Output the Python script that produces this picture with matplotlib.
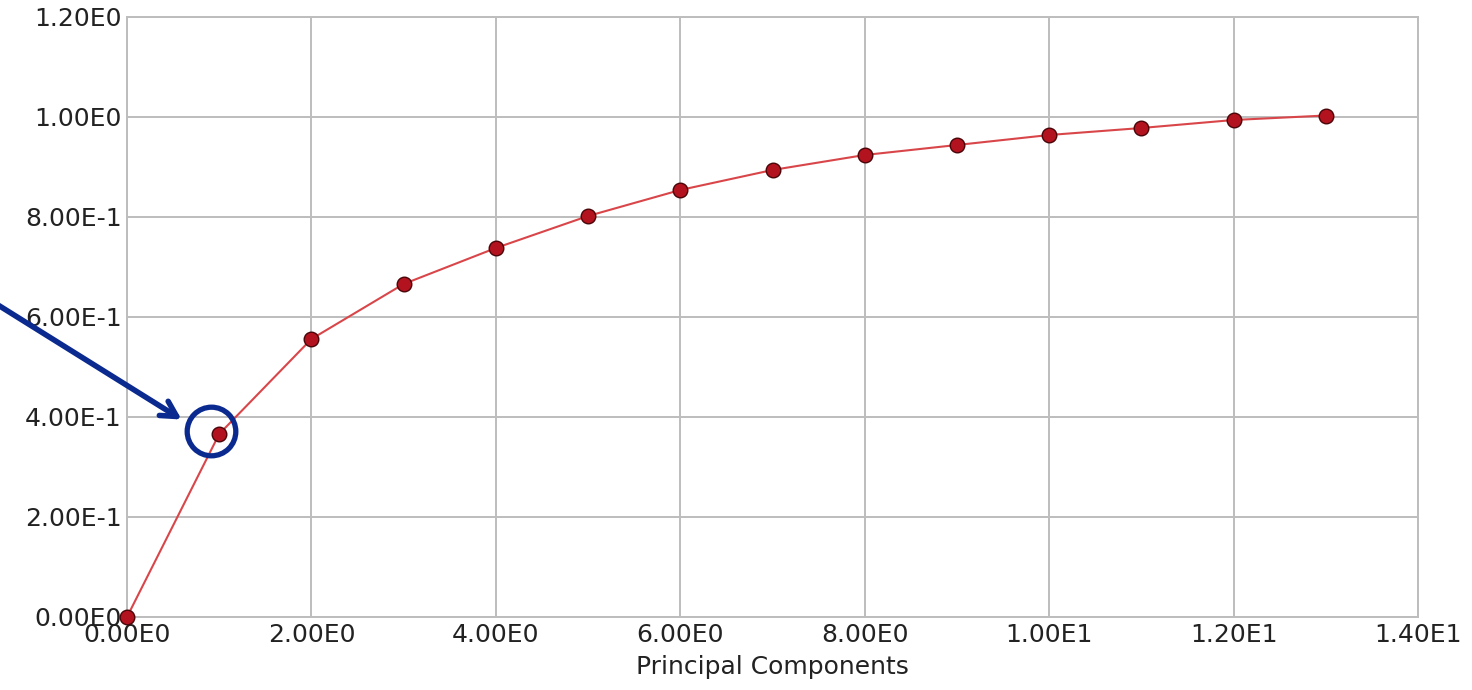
import math

import matplotlib

matplotlib.use("Agg")
import matplotlib.pyplot as plt
from matplotlib.ticker import FuncFormatter, MultipleLocator
from matplotlib.transforms import offset_copy

# cumulative explained variance per number of principal components
components = [0, 1, 2, 3, 4, 5, 6, 7, 8, 9, 10, 11, 12, 13]
cum_variance = [0.0, 0.366, 0.556, 0.666, 0.738, 0.802, 0.854, 0.894,
                0.924, 0.944, 0.964, 0.978, 0.994, 1.003]

highlight_idx = 1


def sci_label(v, _pos=None):
    if abs(v) < 1e-12:
        return "0.00E0"
    exp = int(math.floor(math.log10(abs(v)) + 1e-9))
    return f"{v / 10 ** exp:.2f}E{exp}"


fig = plt.figure(figsize=(14.72, 6.9), dpi=100)
ax = fig.add_axes([127 / 1472, 73 / 690, (1418 - 127) / 1472, 600 / 690])

ax.plot(components, cum_variance, color="#d9464a", lw=1.5, zorder=3,
        marker="o", markersize=10.5, markerfacecolor="#b3121f",
        markeredgecolor="#4a0508", markeredgewidth=1.0, clip_on=False)

ax.set_xlim(0, 14)
ax.set_ylim(0, 1.2)
ax.xaxis.set_major_locator(MultipleLocator(2))
ax.yaxis.set_major_locator(MultipleLocator(0.2))
ax.xaxis.set_major_formatter(FuncFormatter(sci_label))
ax.yaxis.set_major_formatter(FuncFormatter(sci_label))
ax.tick_params(length=0, labelsize=18, labelcolor="#222222")
ax.tick_params(axis="x", pad=4)
ax.tick_params(axis="y", pad=4)
ax.grid(True, color="#bdbdbd", lw=1.4)
for spine in ax.spines.values():
    spine.set_color("#bdbdbd")
    spine.set_linewidth(1.4)

ax.set_xlabel("Principal Components", fontsize=18, color="#222222", labelpad=6)

# blue annotation: circle around the first component plus an arrow
hx, hy = components[highlight_idx], cum_variance[highlight_idx]
ring_tr = offset_copy(ax.transData, fig=fig, x=-8, y=3, units="dots")
ax.plot([hx], [hy], marker="o", markersize=35, markerfacecolor="none",
        markeredgecolor="#0b2a8f", markeredgewidth=3.8, zorder=5,
        clip_on=False, transform=ring_tr)
ax.annotate("", xy=(184, 690 - 421), xycoords="figure pixels",
            xytext=(-10, 690 - 300), textcoords="figure pixels",
            arrowprops=dict(arrowstyle="->,head_length=1.1,head_width=0.6",
                            color="#0b2a8f", lw=4))

fig.savefig("out.png", dpi=100)
